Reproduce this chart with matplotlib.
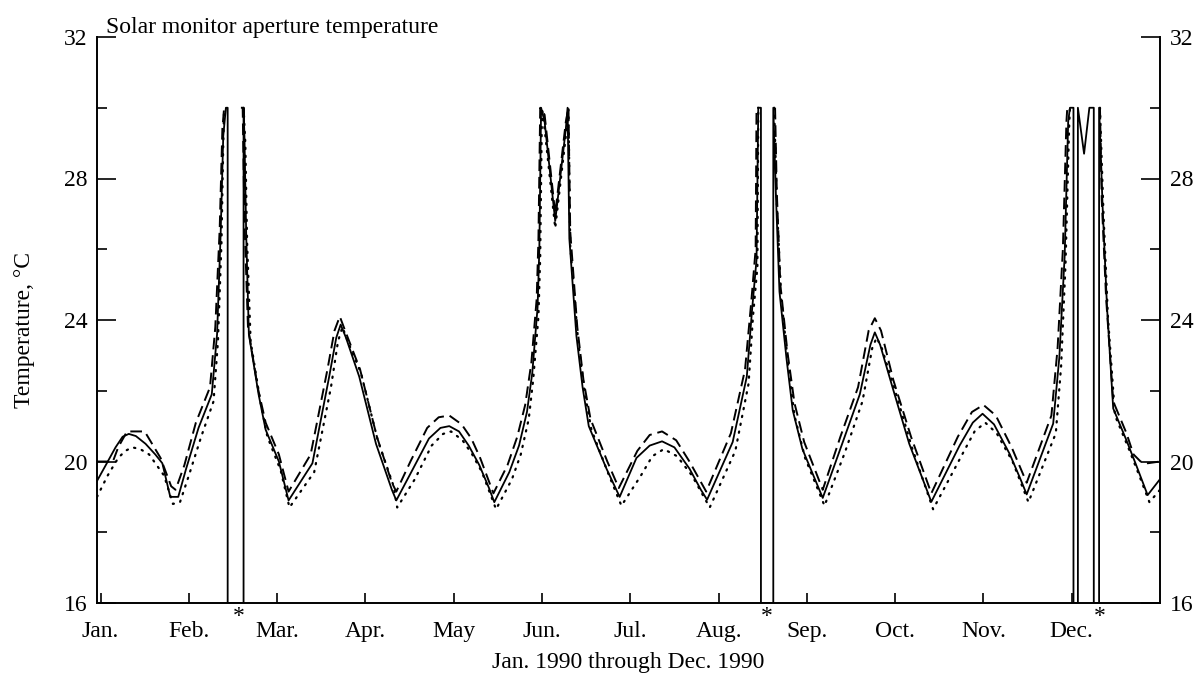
import numpy as np
import matplotlib
matplotlib.use('Agg')
from matplotlib import pyplot as plt

plt.rcParams['font.family'] = ['Liberation Serif', 'DejaVu Serif']

# months since Jan. 1 1990 (Jan. = 0)
month_pos = list(range(12))
month_labels = ['Jan.', 'Feb.', 'Mar.', 'Apr.', 'May', 'Jun.',
                'Jul.', 'Aug.', 'Sep.', 'Oct.', 'Nov.', 'Dec.']
gap_marks = [1.57, 7.55, 11.32]

nan = np.nan

# solid curve (drops to 16 during the gaps)
solid_t = [-0.04, 0.06, 0.17, 0.25, 0.32, 0.40, 0.51, 0.62, 0.70, 0.79,
           0.88, 0.97, 1.11, 1.26, 1.32, 1.36, 1.39, 1.42, 1.44, 1.44,
           1.62, 1.62, 1.63, 1.65, 1.68, 1.79, 1.87, 2.02, 2.13, 2.40,
           2.59, 2.67, 2.72, 2.78, 2.93, 3.12, 3.30, 3.35, 3.53, 3.72,
           3.85, 3.95, 4.06, 4.17, 4.29, 4.40, 4.46, 4.63, 4.74, 4.83,
           4.89, 4.95, 4.97, 4.99, 5.03, 5.15, 5.27, 5.29, 5.31, 5.39,
           5.46, 5.53, 5.73, 5.88, 6.07, 6.22, 6.36, 6.50, 6.67, 6.80,
           6.87, 7.16, 7.32, 7.38, 7.43, 7.45, 7.48, 7.48, 7.62, 7.62,
           7.65, 7.69, 7.77, 7.84, 7.95, 8.18, 8.40, 8.60, 8.72, 8.77,
           8.83, 8.97, 9.16, 9.41, 9.73, 9.88, 9.99, 10.12, 10.30, 10.42,
           10.49, 10.79, 10.86, 10.92, 10.96, 10.98, 11.02, 11.02, 11.07, 11.07,
           11.14, 11.20, 11.25, 11.25, 11.31, 11.31, 11.35, 11.40, 11.47, 11.62,
           11.73, 11.86, 12.0]
solid_v = [19.45, 19.9, 20.4, 20.7, 20.78, 20.72, 20.5, 20.2, 19.95, 19.0,
           19.0, 19.8, 20.95, 21.9, 23.6, 26.4, 29.2, 30.0, 30.0, 16.0,
           16.0, 30.0, 29.2, 26.4, 23.6, 21.9, 20.9, 20.0, 18.9, 19.95,
           22.4, 23.5, 23.87, 23.5, 22.4, 20.5, 19.2, 18.9, 19.75, 20.65,
           20.95, 21.0, 20.85, 20.45, 19.9, 19.25, 18.85, 19.7, 20.45, 21.4,
           22.5, 24.35, 26.0, 30.0, 29.6, 26.8, 29.4, 30.0, 26.3, 23.55,
           22.1, 21.0, 19.8, 19.0, 20.1, 20.45, 20.57, 20.4, 19.8, 19.2,
           18.92, 20.55, 22.4, 24.3, 25.7, 30.0, 30.0, 16.0, 16.0, 30.0,
           27.5, 24.8, 22.9, 21.45, 20.35, 18.97, 20.5, 21.9, 23.3, 23.65,
           23.3, 22.1, 20.5, 18.86, 20.45, 21.1, 21.35, 21.05, 20.2, 19.5,
           19.07, 21.07, 22.95, 25.8, 29.6, 30.0, 30.0, 16.0, 16.0, 30.0,
           28.7, 30.0, 30.0, 16.0, 16.0, 30.0, 27.2, 24.35, 21.5, 20.6,
           19.9, 19.05, 19.5]

# dashed curve
dash_t = [-0.04, 0.14, 0.20, 0.30, 0.50, 0.68, 0.80, 0.85, 0.95, 1.08,
          1.24, 1.30, 1.35, 1.38, 1.40, 1.41, 1.50, 1.59, 1.61, 1.63,
          1.67, 1.78, 1.87, 2.02, 2.13, 2.38, 2.57, 2.65, 2.71, 2.77,
          2.94, 3.13, 3.30, 3.35, 3.51, 3.70, 3.83, 3.95, 4.09, 4.20,
          4.30, 4.45, 4.61, 4.72, 4.81, 4.88, 4.94, 4.96, 4.98, 5.03,
          5.15, 5.27, 5.30, 5.32, 5.40, 5.47, 5.55, 5.74, 5.87, 6.08,
          6.22, 6.36, 6.52, 6.67, 6.86, 7.14, 7.30, 7.37, 7.42, 7.43,
          7.46, 7.55, 7.64, 7.66, 7.70, 7.78, 7.86, 7.97, 8.18, 8.38,
          8.58, 8.70, 8.77, 8.84, 8.98, 9.18, 9.41, 9.71, 9.87, 10.00,
          10.14, 10.32, 10.49, 10.77, 10.84, 10.90, 10.94, 10.95, 10.97, 11.15,
          11.32, 11.34, 11.39, 11.47, 11.62, 11.70, 11.78, 11.86, 12.0]
dash_v = [20.0, 20.0, 20.4, 20.85, 20.85, 20.1, 19.3, 19.2, 19.9, 21.1,
          22.1, 23.8, 26.6, 29.4, 30.0, 30.0, nan, 30.0, 30.0, 26.8,
          23.8, 22.1, 21.1, 20.2, 19.15, 20.2, 22.6, 23.7, 24.1, 23.7,
          22.6, 20.7, 19.4, 19.15, 20.0, 20.95, 21.25, 21.3, 21.05, 20.65,
          20.1, 19.1, 19.9, 20.7, 21.6, 22.8, 24.6, 26.3, 30.0, 29.8,
          27.0, 29.6, 30.0, 26.5, 23.8, 22.3, 21.2, 20.0, 19.25, 20.3,
          20.75, 20.85, 20.6, 20.0, 19.15, 20.8, 22.6, 24.5, 26.0, 30.0,
          30.0, nan, 30.0, 27.6, 25.0, 23.1, 21.65, 20.55, 19.2, 20.7,
          22.1, 23.7, 24.05, 23.7, 22.3, 20.7, 19.1, 20.7, 21.4, 21.6,
          21.3, 20.4, 19.4, 21.3, 23.2, 26.0, 29.6, 30.0, 30.0, nan,
          30.0, 27.4, 24.6, 21.7, 20.8, 20.2, 20.0, 19.95, 20.0]

# dotted curve
dot_t = [-0.04, 0.08, 0.20, 0.28, 0.36, 0.45, 0.55, 0.72, 0.82, 0.90,
         1.00, 1.14, 1.28, 1.33, 1.37, 1.39, 1.40, 1.50, 1.62, 1.64,
         1.66, 1.70, 1.81, 1.89, 2.04, 2.14, 2.42, 2.61, 2.69, 2.74,
         2.80, 2.95, 3.14, 3.32, 3.36, 3.56, 3.75, 3.88, 3.97, 4.10,
         4.21, 4.32, 4.48, 4.66, 4.76, 4.85, 4.90, 4.96, 4.98, 5.00,
         5.03, 5.15, 5.27, 5.30, 5.32, 5.41, 5.48, 5.56, 5.76, 5.90,
         6.12, 6.25, 6.38, 6.53, 6.70, 6.90, 7.19, 7.34, 7.39, 7.44,
         7.45, 7.55, 7.63, 7.66, 7.71, 7.79, 7.86, 7.98, 8.20, 8.43,
         8.63, 8.74, 8.79, 8.85, 9.00, 9.19, 9.43, 9.76, 9.90, 10.02,
         10.15, 10.33, 10.51, 10.82, 10.88, 10.93, 10.97, 10.98, 11.15, 11.32,
         11.36, 11.41, 11.49, 11.64, 11.75, 11.88, 12.0]
dot_v = [19.0, 19.6, 20.1, 20.3, 20.4, 20.35, 20.2, 19.6, 18.8, 18.85,
         19.6, 20.7, 21.7, 23.4, 26.2, 29.0, 30.0, nan, 30.0, 29.0,
         26.2, 23.4, 21.7, 20.7, 19.75, 18.7, 19.7, 22.1, 23.4, 23.8,
         23.4, 22.5, 20.6, 19.3, 18.7, 19.5, 20.45, 20.78, 20.85, 20.6,
         20.2, 19.7, 18.65, 19.5, 20.2, 21.2, 22.3, 24.1, 25.8, 30.0,
         29.4, 26.6, 29.2, 30.0, 26.1, 23.4, 22.0, 20.9, 19.6, 18.75,
         19.6, 20.15, 20.35, 20.15, 19.6, 18.7, 20.3, 22.2, 24.1, 25.5,
         30.0, nan, 30.0, 27.3, 24.6, 22.7, 21.3, 20.1, 18.75, 20.25,
         21.7, 23.2, 23.5, 23.2, 22.0, 20.4, 18.65, 20.2, 20.85, 21.1,
         20.8, 20.0, 18.85, 20.8, 22.7, 25.6, 29.4, 30.0, nan, 30.0,
         27.0, 24.1, 21.3, 20.4, 19.7, 18.85, 19.2]

fig = plt.figure(figsize=(11.98, 6.75), dpi=100)
ax = fig.add_axes([97 / 1198, 1 - 603 / 675, (1160 - 97) / 1198, 566 / 675])

ax.plot(solid_t, solid_v, color='black', lw=1.3)
ax.plot(dash_t, dash_v, color='black', lw=1.4, ls=(0, (6, 3)))
ax.plot(dot_t, dot_v, color='black', lw=1.6, ls=(0, (0.6, 3)),
        dash_capstyle='round')

ax.set_xlim(-0.04, 12.0)
ax.set_ylim(16, 32)

ax.spines['top'].set_visible(False)
for side in ['left', 'right', 'bottom']:
    ax.spines[side].set_linewidth(1.4)

fs = 17
ax.set_xticks(month_pos)
ax.set_xticklabels(month_labels)
ax.tick_params(axis='x', direction='in', length=7, width=1.2, pad=13,
               labelsize=fs)
ax.set_yticks([16, 20, 24, 28, 32])
ax.set_yticks([18, 22, 26, 30], minor=True)
ax.tick_params(axis='y', which='major', direction='in', length=14, width=1.2,
               left=True, right=True, labelleft=True, labelright=True,
               pad=7, labelsize=fs)
ax.tick_params(axis='y', which='minor', direction='in', length=7, width=1.2,
               left=True, right=True)

# gap markers under the axis
for g in gap_marks:
    ax.text(g, -0.005, '*', transform=ax.get_xaxis_transform(),
            ha='center', va='top', fontsize=fs)

fig.text(106 / 1198, 1 - 33 / 675, 'Solar monitor aperture temperature',
         ha='left', va='baseline', fontsize=fs)
fig.text(628 / 1198, 1 - 668 / 675, 'Jan. 1990 through Dec. 1990',
         ha='center', va='baseline', fontsize=fs)
fig.text(25 / 1198, 1 - 330 / 675, 'Temperature, \u00b0C', rotation=90,
         ha='center', va='center', fontsize=fs)

plt.savefig('out.png', dpi=100)
